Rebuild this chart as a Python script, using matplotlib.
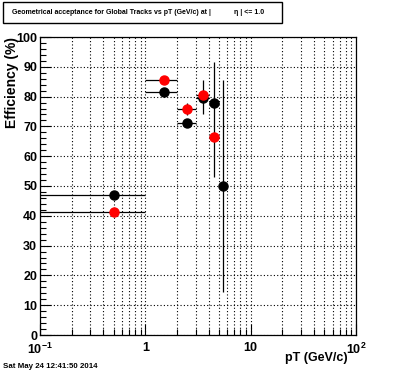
import matplotlib
matplotlib.use("Agg")
import matplotlib.pyplot as plt
from matplotlib.patches import Rectangle
from matplotlib.ticker import MultipleLocator, FixedLocator, NullFormatter
import numpy as np

plt.rcParams['font.family'] = ['Liberation Sans', 'DejaVu Sans']
plt.rcParams['mathtext.fontset'] = 'custom'
plt.rcParams['mathtext.rm'] = 'Liberation Sans:bold'
plt.rcParams['mathtext.it'] = 'Liberation Sans:bold'
plt.rcParams['mathtext.bf'] = 'Liberation Sans:bold'

# bins in pT (GeV/c)
bin_lo = np.array([0.0, 1.0, 2.0, 3.0, 4.0, 5.0])
bin_hi = np.array([1.0, 2.0, 3.0, 4.0, 5.0, 6.0])
pt = np.array([0.5, 1.5, 2.5, 3.5, 4.5, 5.5])

# black series
eff_black = np.array([47.0, 81.4, 71.1, 79.5, 78.0, 50.0])
err_black_lo = np.array([0.0, 0.0, 0.0, 5.5, 25.0, 35.5])
err_black_hi = np.array([0.0, 0.0, 0.0, 6.0, 13.7, 35.6])

# red series (no entry in last bin)
pt_red = pt[:5]
eff_red = np.array([41.2, 85.5, 75.7, 80.5, 66.5])
err_red = np.array([0.0, 0.0, 2.0, 0.0, 0.0])

fig = plt.figure(figsize=(3.96, 3.72), dpi=100)
ax = fig.add_axes([40/396, 37/372, 316/396, 298/372])

lo = np.maximum(bin_lo, 1e-3)
xerr_b = [pt - lo, bin_hi - pt]
ax.errorbar(pt, eff_black, xerr=xerr_b, yerr=[err_black_lo, err_black_hi],
            fmt='o', color='black', ecolor='black', elinewidth=0.9,
            markersize=6.5, capsize=0, zorder=3)
xerr_r = [pt_red - lo[:5], bin_hi[:5] - pt_red]
ax.errorbar(pt_red, eff_red, xerr=xerr_r, yerr=err_red,
            fmt='o', color='red', ecolor='black', elinewidth=0.9,
            markersize=6.5, capsize=0, zorder=4)

ax.set_xscale('log')
ax.set_xlim(0.1, 100)
ax.set_ylim(0, 100)

ax.xaxis.set_major_locator(FixedLocator([0.1, 1, 10, 100]))
ax.xaxis.set_minor_locator(FixedLocator([m * d for d in (0.1, 1, 10) for m in range(2, 10)]))
ax.xaxis.set_minor_formatter(NullFormatter())
ax.set_xticklabels(['$10^{-1}$', '1', '10', '$10^{2}$'])
ax.yaxis.set_major_locator(MultipleLocator(10))
ax.yaxis.set_minor_locator(MultipleLocator(2))

ax.tick_params(which='both', direction='in', top=False, right=False,
               labelsize=9, width=0.8)
ax.tick_params(which='major', length=8)
ax.tick_params(which='minor', length=4)
for lab in ax.get_xticklabels() + ax.get_yticklabels():
    lab.set_fontweight('bold')
ax.tick_params(axis='x', pad=5)
ax.tick_params(axis='y', pad=2)

ax.grid(True, which='major', axis='y', color='black', linestyle=(0, (1, 2)), linewidth=0.8)
ax.grid(True, which='both', axis='x', color='black', linestyle=(0, (1, 2)), linewidth=0.8)
for s in ax.spines.values():
    s.set_linewidth(0.9)

fig.text(12/396, 1 - 37/372, 'Efficiency (%)', rotation=90, ha='center', va='top',
         fontsize=10, fontweight='bold')
fig.text(348/396, 1 - 358/372, 'pT (GeV/c)', ha='right', va='center',
         fontsize=9, fontweight='bold')

# title box
fig.patches.append(Rectangle((3/396, 1 - 23/372), 279/396, 21/372,
                             transform=fig.transFigure, fill=False,
                             edgecolor='black', linewidth=1))
fig.text(12/396, 1 - 12/372, 'Geometrical acceptance for Global Tracks vs pT (GeV/c) at |',
         ha='left', va='center', fontsize=5.0, fontweight='bold')
fig.text(234/396, 1 - 12/372, 'η | <= 1.0', ha='left', va='center',
         fontsize=5.0, fontweight='bold')

fig.text(3/396, 1 - 366/372, 'Sat May 24 12:41:50 2014', ha='left', va='center',
         fontsize=5.7, fontweight='bold')

fig.savefig('out.png', dpi=100)
